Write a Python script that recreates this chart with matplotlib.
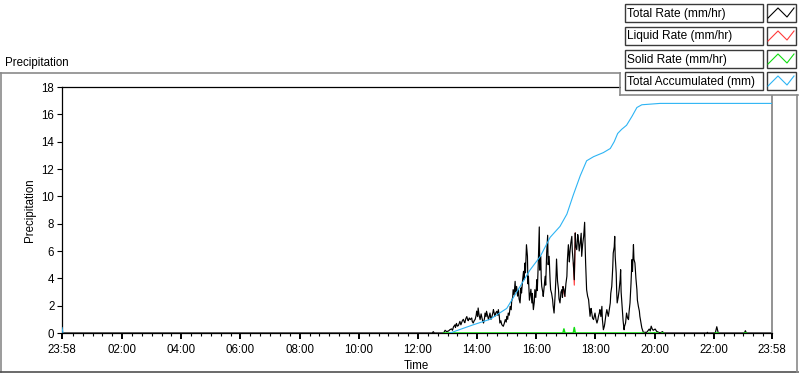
import numpy as np
import matplotlib
matplotlib.use('Agg')
import matplotlib.pyplot as plt
from matplotlib.lines import Line2D
from matplotlib.patches import Rectangle
from matplotlib.transforms import Affine2D

plt.rcParams['font.family'] = ['Liberation Sans', 'DejaVu Sans']

# chart runs from 23:58 of the previous day to 23:58
day_start = '-00:02'
day_end = '23:58'

# total precipitation rate (mm/hr)
rate_times = [
    '-00:02', '12:29', '12:31', '12:33', '12:52', '12:55', '12:58', '13:02', '13:05', '13:08',
    '13:10', '13:12', '13:15', '13:16', '13:18', '13:20', '13:22', '13:25', '13:27', '13:28',
    '13:30', '13:32', '13:34', '13:35', '13:37', '13:39', '13:41', '13:42', '13:44', '13:46',
    '13:49', '13:50', '13:52', '13:54', '13:56', '13:58', '13:59', '14:01', '14:02', '14:04',
    '14:06', '14:08', '14:09', '14:11', '14:13', '14:15', '14:16', '14:18', '14:19', '14:21',
    '14:23', '14:25', '14:26', '14:28', '14:30', '14:32', '14:33', '14:35', '14:36', '14:38',
    '14:40', '14:42', '14:43', '14:45', '14:46', '14:48', '14:50', '14:53', '14:55', '14:57',
    '14:59', '15:00', '15:02', '15:03', '15:05', '15:07', '15:09', '15:10', '15:12', '15:13',
    '15:15', '15:17', '15:18', '15:20', '15:22', '15:24', '15:25', '15:27', '15:29', '15:30',
    '15:32', '15:34', '15:35', '15:37', '15:38', '15:40', '15:42', '15:43', '15:44', '15:46',
    '15:47', '15:49', '15:51', '15:52', '15:54', '15:56', '15:57', '15:59', '16:01', '16:02',
    '16:04', '16:06', '16:07', '16:09', '16:10', '16:11', '16:13', '16:14', '16:16', '16:18',
    '16:19', '16:21', '16:23', '16:24', '16:26', '16:28', '16:29', '16:31', '16:33', '16:34',
    '16:36', '16:38', '16:40', '16:41', '16:43', '16:45', '16:46', '16:48', '16:50', '16:52',
    '16:53', '16:54', '16:56', '16:58', '17:00', '17:02', '17:03', '17:05', '17:07', '17:08',
    '17:10', '17:12', '17:13', '17:15', '17:17', '17:19', '17:20', '17:22', '17:24', '17:25',
    '17:27', '17:29', '17:31', '17:32', '17:34', '17:36', '17:38', '17:39', '17:40', '17:42',
    '17:44', '17:46', '17:48', '17:49', '17:51', '17:52', '17:54', '17:56', '17:58', '17:59',
    '18:01', '18:03', '18:05', '18:06', '18:08', '18:09', '18:11', '18:13', '18:14', '18:16',
    '18:18', '18:19', '18:21', '18:23', '18:25', '18:26', '18:28', '18:30', '18:31', '18:33',
    '18:35', '18:36', '18:38', '18:39', '18:40', '18:42', '18:43', '18:44', '18:46', '18:48',
    '18:50', '18:51', '18:52', '18:54', '18:56', '18:58', '18:59', '19:01', '19:02', '19:03',
    '19:05', '19:07', '19:08', '19:10', '19:12', '19:14', '19:15', '19:17', '19:18', '19:20',
    '19:22', '19:24', '19:25', '19:27', '19:29', '19:30', '19:32', '19:34', '19:37', '19:44',
    '19:49', '19:51', '19:53', '19:55', '19:57', '20:01', '20:04', '20:08', '20:11', '20:16',
    '20:18', '21:46', '21:47', '21:48', '22:03', '22:06', '22:09', '23:02', '23:04', '23:06',
    '23:58',
]
total_rate = [
    0, 0, 0.1, 0, 0, 0.2, 0.1, 0.15, 0.25, 0.3,
    0.2, 0.45, 0.6, 0.4, 0.7, 0.5, 0.55, 0.85, 0.6, 0.7,
    0.9, 1.0, 0.8, 0.75, 1.05, 1.2, 0.95, 0.9, 1.1, 0.98,
    1.1, 0.85, 0.73, 0.9, 1.0, 1.3, 1.6, 1.2, 1.83, 1.3,
    0.98, 1.4, 1.22, 0.9, 0.73, 1.1, 1.46, 1.2, 1.59, 1.3,
    0.98, 1.3, 1.46, 1.0, 1.2, 1.5, 1.71, 1.4, 1.22, 1.5,
    1.59, 1.3, 1.71, 1.2, 0.73, 0.9, 0.61, 0.49, 0.7, 0.98,
    0.8, 1.22, 1.0, 1.46, 1.3, 1.95, 1.7, 2.32, 2.6, 3.17,
    2.8, 3.78, 3.0, 3.41, 2.7, 3.17, 2.5, 2.20, 3.3, 2.93,
    3.8, 4.51, 3.9, 5.12, 4.4, 6.46, 5.61, 3.6, 4.15, 2.4,
    2.68, 3.2, 2.20, 2.9, 1.71, 2.3, 3.17, 2.6, 3.90, 3.1,
    5.12, 7.76, 4.6, 5.61, 4.0, 3.41, 3.0, 2.68, 3.4, 4.15,
    3.5, 5.85, 7.15, 5.0, 5.61, 3.8, 3.17, 2.9, 2.44, 2.0,
    1.46, 2.68, 4.2, 5.41, 3.8, 3.17, 2.5, 2.20, 3.0, 3.17,
    2.6, 3.4, 3.2, 2.68, 3.6, 4.15, 5.3, 6.46, 5.2, 5.85,
    6.6, 7.07, 6.0, 5.12, 3.9, 7.32, 6.4, 6.10, 7.2, 6.95,
    6.0, 6.59, 7.3, 5.61, 6.5, 7.07, 8.10, 6.4, 5.12, 3.17,
    2.7, 2.44, 1.6, 1.22, 1.8, 1.59, 1.1, 0.98, 1.3, 1.46,
    1.0, 0.73, 1.0, 1.22, 1.5, 1.71, 1.2, 1.95, 1.0, 0.24,
    0.5, 0.73, 1.3, 1.71, 1.4, 1.22, 1.7, 2.20, 2.9, 3.41,
    4.8, 5.85, 6.3, 7.07, 5.6, 4.39, 3.0, 2.20, 2.6, 3.17,
    3.9, 4.63, 3.0, 1.95, 0.9, 0.24, 0.5, 0.73, 1.1, 1.46,
    1.1, 0.98, 1.5, 2.20, 3.6, 5.37, 4.5, 6.46, 5.4, 5.12,
    4.0, 3.17, 2.4, 1.95, 1.6, 1.22, 0.8, 0.37, 0.05, 0.05,
    0.29, 0.15, 0.5, 0.3, 0.20, 0.29, 0.12, 0.05, 0, 0.1,
    0, 0, 0.05, 0, 0, 0.46, 0, 0, 0.17, 0,
    0,
]

# solid rate (mm/hr), only reported while it is precipitating
solid_times = ['12:52', '16:54', '16:56', '16:58', '17:15', '17:17', '17:19', '19:38', '19:39',
               '19:47', '19:58', '19:59', '20:00', '20:07', '20:08', '20:14', '20:18', '20:19',
               '22:03', '22:09', '22:10', '23:02', '23:06']
solid_rate = [0, 0, 0.3, 0, 0, 0.4, 0, 0, np.nan,
              0, 0, np.nan, 0, 0, np.nan, 0, 0, np.nan,
              0, 0, np.nan, 0, 0]

# total accumulated (mm)
accum_times = ['-00:02', '00:00', '00:01', '13:05', '13:52', '14:26', '15:00', '15:27', '15:47',
               '16:08', '16:28', '16:48', '17:02', '17:15', '17:29', '17:42', '17:56', '18:16',
               '18:30', '18:38', '18:45', '18:53', '19:03', '19:14', '19:24', '19:34', '20:11',
               '23:58']
accum_total = [0.4, 0, np.nan, 0, 0.6, 1.0, 1.8, 3.4, 4.6,
               5.6, 7.0, 7.8, 8.7, 10.1, 11.5, 12.6, 12.9, 13.2,
               13.5, 14.0, 14.6, 14.9, 15.2, 15.85, 16.5, 16.7, 16.8,
               16.8]

tick_labels = ['23:58', '02:00', '04:00', '06:00', '08:00', '10:00', '12:00',
               '14:00', '16:00', '18:00', '20:00', '22:00', '23:58']

legend_labels = ['Total Rate (mm/hr)', 'Liquid Rate (mm/hr)', 'Solid Rate (mm/hr)',
                 'Total Accumulated (mm)']
colors = ['black', '#ff3a3a', '#10dd10', '#2db4f4']


def hm(s):
    if s.startswith('-'):
        return -hm(s[1:])
    h, m = s.split(':')
    return int(h) + int(m) / 60


t_rate = np.array([hm(s) for s in rate_times])
t_solid = np.array([hm(s) for s in solid_times])
t_accum = np.array([hm(s) for s in accum_times])
total = np.array(total_rate)
solid = np.array(solid_rate)
# liquid is whatever part of the total is not solid
solid_at_rate = np.interp(t_rate, t_solid, np.nan_to_num(solid))
liquid = total - solid_at_rate
# the liquid trace sits under the total one; only keep it where the two differ
differs = solid_at_rate > 0
near = differs | np.roll(differs, 1) | np.roll(differs, -1)
liquid_shown = np.where(near, liquid, np.nan)

W, H = 800, 373
fig = plt.figure(figsize=(W / 100, H / 100), dpi=100)
fig.patch.set_facecolor('white')
px = Affine2D().scale(1 / W, -1 / H).translate(0, 1) + fig.transFigure

ax = fig.add_axes([62 / W, 1 - 333 / H, 710 / W, 246 / H])
ax.plot(t_rate, liquid_shown, color=colors[1], lw=0.8, zorder=2)
ax.plot(t_rate, total, color=colors[0], lw=0.85, zorder=2.2)
ax.plot(t_solid, solid, color=colors[2], lw=1.1, zorder=3)
ax.plot(t_accum, accum_total, color=colors[3], lw=0.8, zorder=3.2)

ax.set_xlim(hm(day_start), hm(day_end))
ax.set_ylim(0, 18)
major = [hm(day_start)] + list(range(2, 24, 2)) + [hm(day_end)]
ax.set_xticks(major)
ax.set_xticklabels(tick_labels)
minor = [m / 3 for m in range(1, 72) if m % 6 != 0]
ax.set_xticks(minor, minor=True)
ax.set_yticks(range(0, 19, 2))
ax.tick_params(axis='x', which='major', length=4, width=1.4, pad=4, labelsize=8.3)
ax.tick_params(axis='x', which='minor', length=2.5, width=0.8)
ax.tick_params(axis='y', length=3.5, width=0.8, pad=2, labelsize=8.3)
for side in ['left', 'bottom', 'top']:
    ax.spines[side].set_color('black')
    ax.spines[side].set_linewidth(0.9)
ax.spines['right'].set_color('#808080')
ax.spines['right'].set_linewidth(1.2)

fig.text(5 / W, 1 - 63 / H, 'Precipitation', fontsize=8.3, va='center', ha='left')
fig.text(30 / W, 1 - 210 / H, 'Precipitation', fontsize=8.3, va='center', ha='center',
         rotation=90)
fig.text(416 / W, 1 - 366 / H, 'Time', fontsize=8.3, va='center', ha='center')

# outer frame
frame = [((0, 73), (620, 73), '#8a8a8a'), ((1, 73), (1, 372), '#8a8a8a'),
         ((0, 372), (798, 372), '#505050'), ((797, 95), (797, 372), '#8a8a8a'),
         ((620, 95), (798, 95), '#8a8a8a'), ((620, 73), (620, 95), '#8a8a8a')]

# legend panel covers the top right of the plot
fig.add_artist(Rectangle((621, 0), 179, 94.5, facecolor='white', edgecolor='none',
                         transform=px, zorder=10))
for (x0, y0), (x1, y1), c in frame:
    fig.add_artist(Line2D([x0, x1], [y0, y1], color=c, lw=1.2, transform=px, zorder=11))

row_tops = [4, 27, 50, 72]
for top, label, c in zip(row_tops, legend_labels, colors):
    fig.add_artist(Rectangle((624.5, top), 138, 18, facecolor='white', edgecolor='#3a3a3a',
                             lw=1.0, transform=px, zorder=12))
    fig.add_artist(Rectangle((766.5, top), 29, 18, facecolor='white', edgecolor='#3a3a3a',
                             lw=1.0, transform=px, zorder=12))
    fig.add_artist(Line2D([768, 778, 787, 794], [top + 14, top + 4, top + 13, top + 4],
                          color=c, lw=0.8, transform=px, zorder=13))
    fig.text(627 / W, 1 - (top + 9.5) / H, label, fontsize=8.6, va='center', ha='left',
             zorder=13)

fig.savefig('out.png', dpi=100, facecolor='white')
